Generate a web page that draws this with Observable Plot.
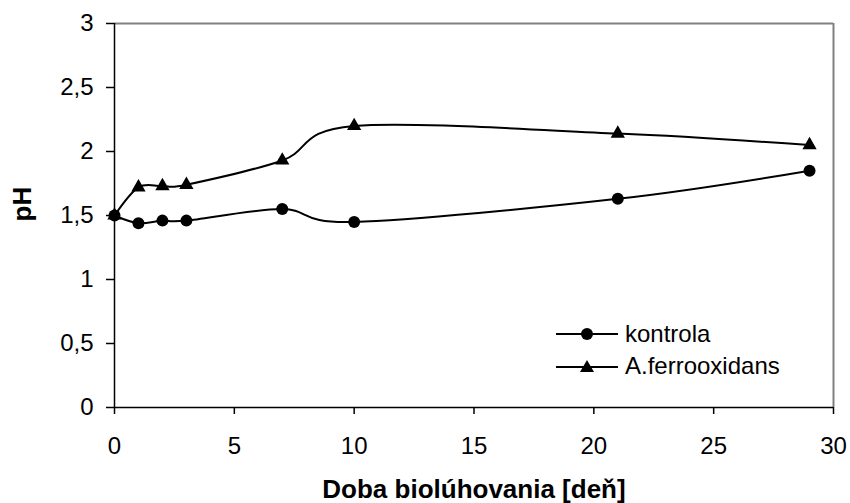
<!DOCTYPE html>
<html>
<head>
<meta charset="utf-8">
<script src="https://cdn.jsdelivr.net/npm/d3@7"></script>
<script src="https://cdn.jsdelivr.net/npm/@observablehq/plot@0.6"></script>
<style>
  html, body { margin: 0; padding: 0; background: #fff; }
  #wrap { position: relative; width: 850px; height: 503px; font-family: "Liberation Sans", Arial, sans-serif; }
  #legend { position: absolute; left: 556px; top: 318px; font-size: 24px; color: #000; }
  #legend .row { display: flex; align-items: center; height: 32px; }
  #legend svg { display: block; margin-right: 7px; }
</style>
</head>
<body>
<div id="wrap"></div>
<script>
const days = [0, 1, 2, 3, 7, 10, 21, 29];
const kontrola = [1.5, 1.44, 1.46, 1.46, 1.55, 1.45, 1.63, 1.85];
const aferro = [1.5, 1.72, 1.73, 1.74, 1.93, 2.2, 2.14, 2.05];
const seriesNames = ["kontrola", "A.ferrooxidans"];
const xTicks = [0, 5, 10, 15, 20, 25, 30];
const yTicks = [0, 0.5, 1, 1.5, 2, 2.5, 3];
const xLabel = "Doba biolúhovania [deň]";
const yLabel = "pH";

const rowsK = days.map((d, i) => ({day: d, ph: kontrola[i]}));
const rowsA = days.map((d, i) => ({day: d, ph: aferro[i]}));
const fmt = d => String(d).replace(".", ",");

const chart = Plot.plot({
  width: 850,
  height: 503,
  marginLeft: 114,
  marginRight: 17,
  marginTop: 23,
  marginBottom: 96,
  style: {fontFamily: "'Liberation Sans', Arial, sans-serif", fontSize: "24px", color: "#000", background: "#fff"},
  x: {domain: [0, 30]},
  y: {domain: [0, 3]},
  marks: [
    Plot.ruleY([3], {stroke: "#808080", strokeWidth: 2}),
    Plot.ruleX([30], {stroke: "#808080", strokeWidth: 2}),
    Plot.ruleX([0], {stroke: "#000", strokeWidth: 1.5}),
    Plot.ruleY([0], {stroke: "#000", strokeWidth: 1.5}),
    Plot.axisX({ticks: xTicks, tickSize: 7, tickPadding: 22, tickFormat: fmt, fontSize: 24, label: null, stroke: "#000", strokeWidth: 1.5}),
    Plot.axisY({ticks: yTicks, tickSize: 8, tickPadding: 13, tickFormat: fmt, fontSize: 24, label: null, stroke: "#000", strokeWidth: 1.5}),
    Plot.text([xLabel], {frameAnchor: "bottom", lineAnchor: "middle", dy: 82, fontSize: 26, fontWeight: "bold", style: "letter-spacing:0.4px"}),
    Plot.text([yLabel], {frameAnchor: "left", lineAnchor: "middle", dx: -92, dy: 6, rotate: -90, fontSize: 26, fontWeight: "bold"}),
    Plot.line(rowsK, {x: "day", y: "ph", stroke: "#000", strokeWidth: 2, curve: "cardinal"}),
    Plot.line(rowsA, {x: "day", y: "ph", stroke: "#000", strokeWidth: 2, curve: "cardinal"}),
    Plot.dot(rowsK, {x: "day", y: "ph", r: 6, fill: "#000", symbol: "circle"}),
    Plot.dot(rowsA, {x: "day", y: "ph", r: 5.3, fill: "#000", symbol: "triangle"})
  ]
});
document.getElementById("wrap").appendChild(chart);

const legend = document.createElement("div");
legend.id = "legend";
const icons = [
  '<svg width="62" height="16"><line x1="0" y1="8" x2="62" y2="8" stroke="#000" stroke-width="2"/><circle cx="31" cy="8" r="6" fill="#000"/></svg>',
  '<svg width="62" height="16"><line x1="0" y1="9" x2="62" y2="9" stroke="#000" stroke-width="2"/><path d="M31,2 L38,14 L24,14 Z" fill="#000"/></svg>'
];
seriesNames.forEach((n, i) => {
  const row = document.createElement("div");
  row.className = "row";
  row.innerHTML = icons[i] + "<span>" + n + "</span>";
  legend.appendChild(row);
});
document.getElementById("wrap").appendChild(legend);
</script>
</body>
</html>
